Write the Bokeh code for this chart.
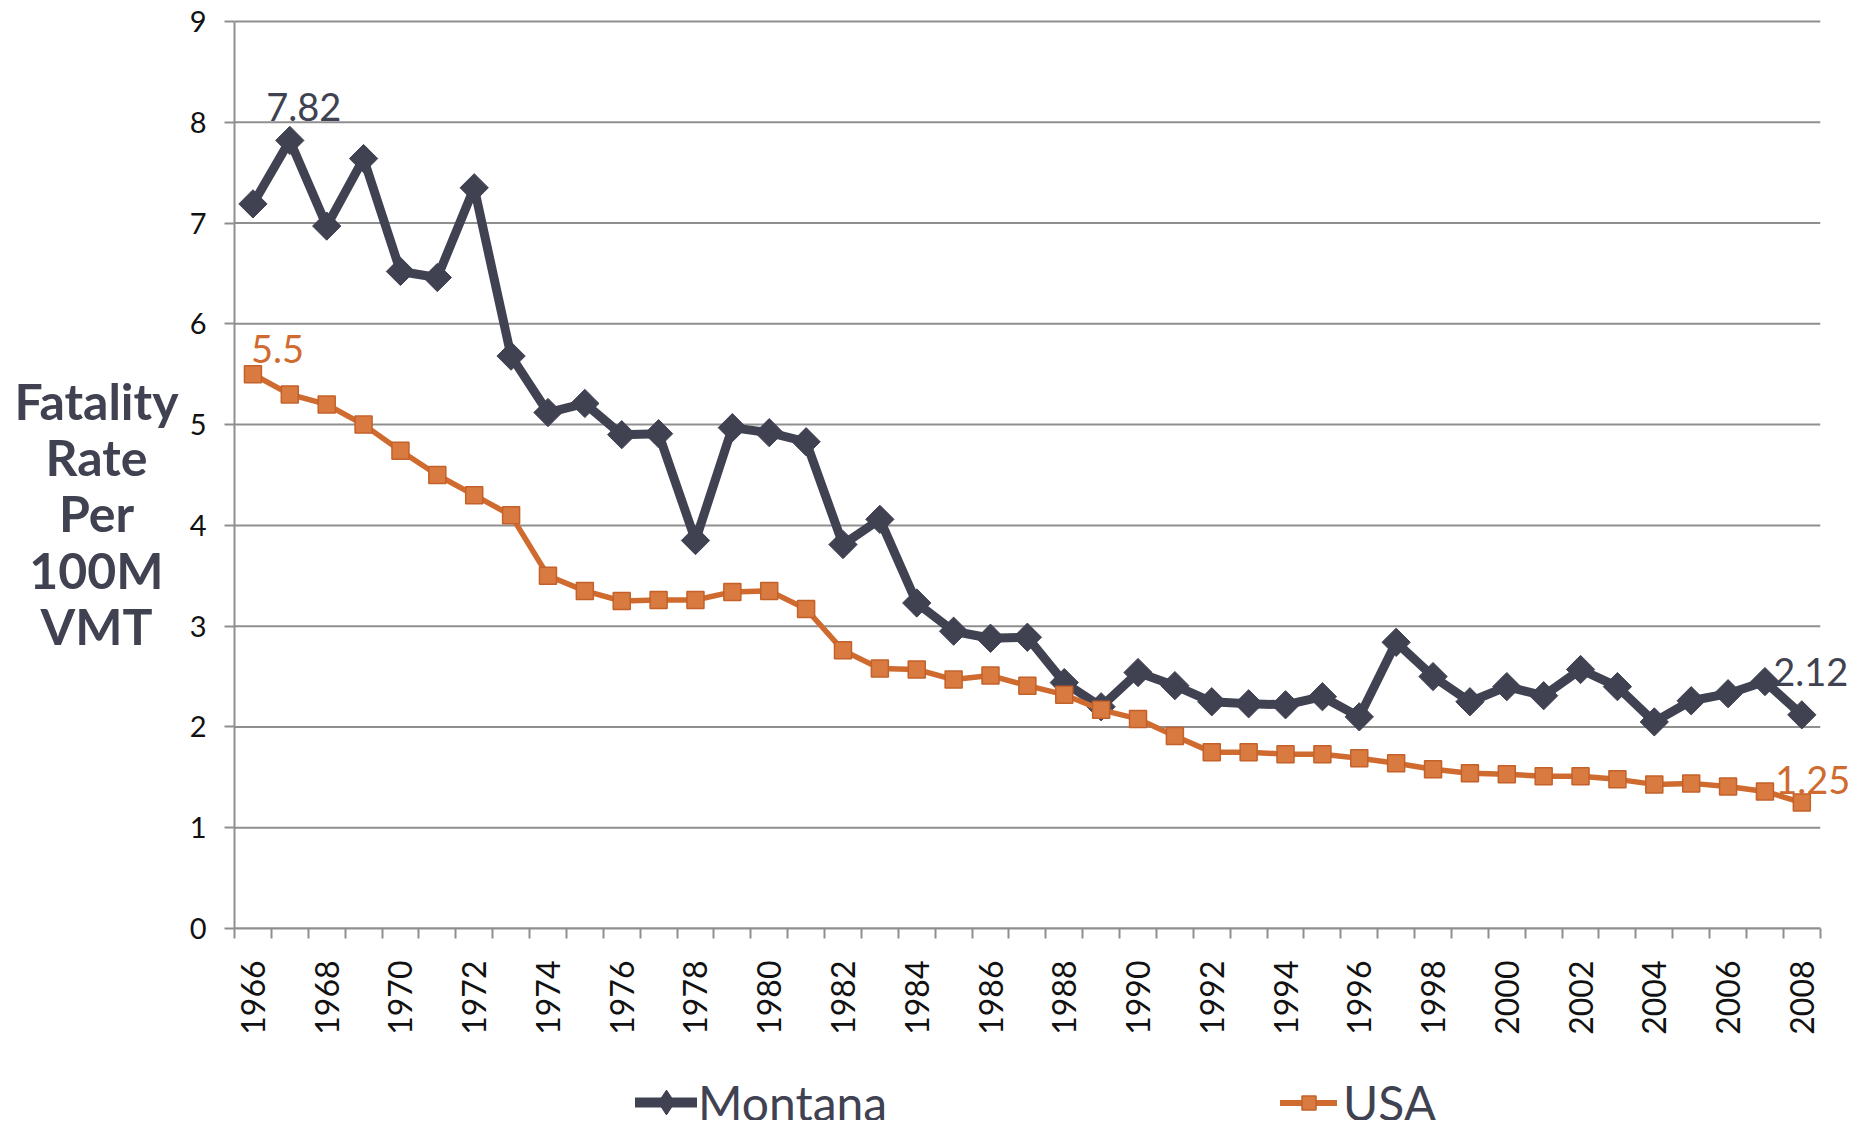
import math
from bokeh.plotting import figure
from bokeh.layouts import row, column
from bokeh.models import Range1d, FixedTicker, Label, Legend, LegendItem
from bokeh.embed import file_html
from bokeh.resources import INLINE
from bokeh.core.properties import value

# ---- data ----
years = list(range(1966, 2009))
montana = [7.19, 7.82, 6.97, 7.64, 6.52, 6.46, 7.35, 5.68, 5.12, 5.21,
           4.90, 4.91, 3.85, 4.97, 4.92, 4.83, 3.81, 4.06, 3.23, 2.95,
           2.88, 2.89, 2.44, 2.20, 2.54, 2.41, 2.25, 2.23, 2.22, 2.30,
           2.10, 2.84, 2.50, 2.25, 2.40, 2.31, 2.57, 2.40, 2.05, 2.26,
           2.33, 2.45, 2.12]
usa = [5.50, 5.30, 5.20, 5.00, 4.74, 4.50, 4.30, 4.10, 3.50, 3.35,
       3.25, 3.26, 3.26, 3.34, 3.35, 3.17, 2.76, 2.58, 2.57, 2.47,
       2.51, 2.41, 2.32, 2.17, 2.08, 1.91, 1.75, 1.75, 1.73, 1.73,
       1.69, 1.64, 1.58, 1.54, 1.53, 1.51, 1.51, 1.48, 1.43, 1.44,
       1.41, 1.36, 1.25]
x_tick_years = [1966, 1968, 1970, 1972, 1974, 1976, 1978, 1980, 1982, 1984,
                1986, 1988, 1990, 1992, 1994, 1996, 1998, 2000, 2002, 2004,
                2006, 2008]
y_ticks = [0, 1, 2, 3, 4, 5, 6, 7, 8, 9]
series_names = ["Montana", "USA"]
y_title = "Fatality\nRate\nPer\n100M\nVMT"

MT_COLOR = "#404252"
US_COLOR = "#D06B30"
US_FILL = "#D97A40"
US_EDGE = "#C4612A"
GRID = "#8f8f8f"
FONT = "Lato"
DIAMOND = math.pi / 4

TOTAL_W, TOTAL_H = 1856, 1120
TITLE_W = 182
MAIN_W = TOTAL_W - TITLE_W
MAIN_H = 1060
LEG_H = TOTAL_H - MAIN_H
FRAME_LEFT = 234   # page x of plot area's left edge
FRAME_BOTTOM = 928  # page y of the zero line

x_lo, x_hi = years[0] - 0.5, years[-1] + 0.5

# ---------------- main chart ----------------
p = figure(width=MAIN_W, height=MAIN_H, output_backend="svg", toolbar_location=None,
           x_range=Range1d(x_lo, x_hi + 0.82),
           y_range=Range1d(0, 9.02),
           min_border_left=FRAME_LEFT - TITLE_W, min_border_right=6,
           min_border_top=19, min_border_bottom=MAIN_H - FRAME_BOTTOM)
p.outline_line_color = None
p.xgrid.grid_line_color = None
p.ygrid.grid_line_color = None

# horizontal gridlines limited to the category span
p.segment(x0=[x_lo] * len(y_ticks), y0=y_ticks, x1=[x_hi] * len(y_ticks), y1=y_ticks,
          line_color=GRID, line_width=2)

# x axis
xa = p.xaxis[0]
xa.bounds = (x_lo, x_hi)
xa.ticker = FixedTicker(ticks=x_tick_years,
                        minor_ticks=[y - 0.5 for y in years] + [x_hi])
xa.major_label_overrides = {y: str(y) for y in x_tick_years}
xa.major_label_orientation = 1.5707963
xa.major_tick_line_color = None
xa.minor_tick_in = 0
xa.minor_tick_out = 10
xa.minor_tick_line_color = GRID
xa.minor_tick_line_width = 2
xa.axis_line_color = GRID
xa.axis_line_width = 2
xa.major_label_text_font = FONT
xa.major_label_text_font_size = "32px"
xa.major_label_text_color = "#111111"
xa.major_label_standoff = 22

# y axis
ya = p.yaxis[0]
ya.bounds = (0, 9)
ya.ticker = FixedTicker(ticks=y_ticks)
ya.major_tick_in = 0
ya.major_tick_out = 10
ya.major_tick_line_color = GRID
ya.major_tick_line_width = 2
ya.minor_tick_line_color = None
ya.axis_line_color = GRID
ya.axis_line_width = 2
ya.major_label_text_font = FONT
ya.major_label_text_font_size = "29px"
ya.major_label_text_color = "#111111"
ya.major_label_standoff = 18

# series
p.line(years, montana, line_color=MT_COLOR, line_width=9, line_join="round")
p.scatter(years, montana, marker="square", angle=DIAMOND, size=20,
          fill_color=MT_COLOR, line_color=MT_COLOR, line_width=1)
p.line(years, usa, line_color=US_COLOR, line_width=5.5, line_join="round")
p.scatter(years, usa, marker="square", size=17,
          fill_color=US_FILL, line_color=US_EDGE, line_width=1.5)

# data labels
def add_label(x, y, txt, color, dx, dy, align="center"):
    p.add_layout(Label(x=x, y=y, text=txt, x_offset=dx, y_offset=dy,
                       text_align=align, text_baseline="middle",
                       text_font=FONT, text_font_size="38px", text_color=color))

add_label(years[1], montana[1], "7.82", MT_COLOR, 14, 33)
add_label(years[0], usa[0], "5.5", US_COLOR, -2, 25, align="left")
add_label(years[-1], montana[-1], "2.12", MT_COLOR, 9, 43)
add_label(years[-1], usa[-1], "1.25", US_COLOR, 11, 23)

# ---------------- y-axis title panel ----------------
t = figure(width=TITLE_W, height=TOTAL_H, output_backend="svg", toolbar_location=None,
           x_range=Range1d(0, TITLE_W), y_range=Range1d(TOTAL_H, 0),
           x_axis_type=None, y_axis_type=None, min_border=0)
t.outline_line_color = None
t.grid.grid_line_color = None
t.text(x=[96], y=[513], text=[y_title], text_align="center", text_baseline="middle",
       text_font=value(FONT), text_font_style="bold", text_font_size="50px",
       text_line_height=0.94, text_color=MT_COLOR)

# ---------------- legend panel ----------------
lg = figure(width=MAIN_W, height=LEG_H, output_backend="svg", toolbar_location=None,
            x_range=Range1d(0, 1), y_range=Range1d(0, 1),
            x_axis_type=None, y_axis_type=None, min_border=0)
lg.outline_line_color = None
lg.grid.grid_line_color = None
mt_l = lg.line(x=[5, 6], y=[5, 6], line_color=MT_COLOR, line_width=10, line_cap="round")
mt_s = lg.scatter(x=[5], y=[5], marker="diamond",
                  fill_color=MT_COLOR, line_color=MT_COLOR)
us_l = lg.line(x=[5, 6], y=[5, 6], line_color=US_COLOR, line_width=6, line_cap="round")
us_s = lg.scatter(x=[5], y=[5], marker="square", fill_color=US_FILL, line_color=US_EDGE,
                  line_width=1.5)

def make_legend(label, rends, loc, gw, gh, standoff):
    return Legend(items=[LegendItem(label=label, renderers=rends)],
                  location=loc, orientation="horizontal",
                  glyph_width=gw, glyph_height=gh, label_standoff=standoff,
                  padding=0, margin=0, border_line_color=None,
                  background_fill_alpha=0,
                  label_text_font=FONT, label_text_font_size="48px",
                  label_text_color=MT_COLOR, label_text_baseline="middle")

lg.add_layout(make_legend(series_names[0], [mt_l, mt_s], (635 - FRAME_LEFT, -14), 62, 64, 1), "center")
lg.add_layout(make_legend(series_names[1], [us_l, us_s], (1280 - FRAME_LEFT, -11), 57, 35, 6), "center")

layout = row(t, column(p, lg, spacing=0), spacing=0)
open("out.html", "w").write(file_html(layout, INLINE))
